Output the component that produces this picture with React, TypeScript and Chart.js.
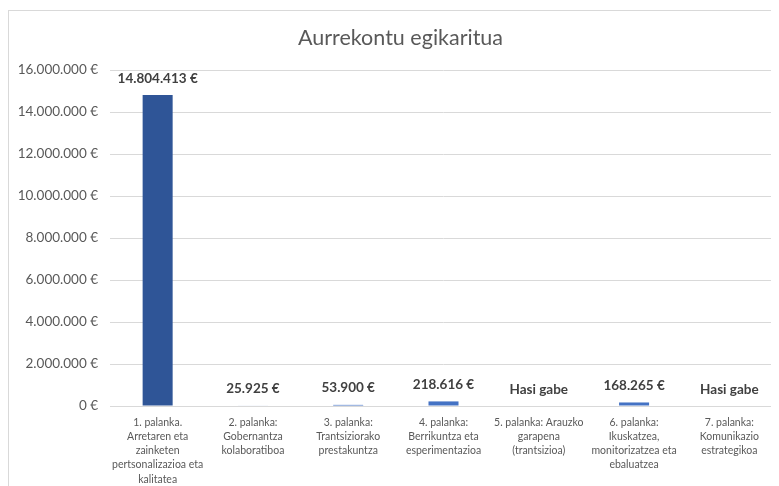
import React, { useEffect, useRef } from "react";
import { Chart, registerables } from "chart.js";

Chart.register(...registerables);

const TITLE = "Aurrekontu egikaritua";
const CATEGORIES: string[][] = [
  ["1. palanka.", "Arretaren eta", "zainketen", "pertsonalizazioa eta", "kalitatea"],
  ["2. palanka:", "Gobernantza", "kolaboratiboa"],
  ["3. palanka:", "Trantsiziorako", "prestakuntza"],
  ["4. palanka:", "Berrikuntza eta", "esperimentazioa"],
  ["5. palanka: Arauzko", "garapena", "(trantsizioa)"],
  ["6. palanka:", "Ikuskatzea,", "monitorizatzea eta", "ebaluatzea"],
  ["7. palanka:", "Komunikazio", "estrategikoa"],
];
const VALUES: (number | null)[] = [14804413, 25925, 53900, 218616, null, 168265, null];
const NOT_STARTED = "Hasi gabe";
const BAR_COLORS = ["#2F5597", "#4472C4", "#4472C4", "#4472C4", "#4472C4", "#4472C4", "#4472C4"];
const Y_MIN = 0;
const Y_MAX = 16000000;
const Y_STEP = 2000000;

const FONT = "Lato, 'Open Sans', sans-serif";

function fmt(n: number): string {
  const s = Math.round(n).toString().replace(/\B(?=(\d{3})+(?!\d))/g, ".");
  return s + " €";
}

const titlePlugin = {
  id: "customTitle",
  afterDraw(chart: any) {
    const ctx = chart.ctx;
    ctx.save();
    ctx.font = `21.5px ${FONT}`;
    ctx.fillStyle = "#595959";
    ctx.textAlign = "center";
    ctx.textBaseline = "middle";
    ctx.fillText(TITLE, chart.width / 2 + 6, 27);
    ctx.restore();
  },
};

const labelPlugin = {
  id: "valueLabels",
  afterDatasetsDraw(chart: any) {
    const ctx = chart.ctx;
    const meta = chart.getDatasetMeta(0);
    const yZero = chart.scales.y.getPixelForValue(0);
    ctx.save();
    ctx.font = `bold 13.5px ${FONT}`;
    ctx.fillStyle = "#404040";
    ctx.textAlign = "center";
    ctx.textBaseline = "bottom";
    meta.data.forEach((el: any, i: number) => {
      const v = VALUES[i];
      const text = v == null ? NOT_STARTED : fmt(v);
      const y = v == null ? yZero : el.y;
      ctx.fillText(text, el.x, y - 10);
    });
    ctx.restore();
  },
};

export default function App() {
  const ref = useRef<HTMLCanvasElement>(null);
  useEffect(() => {
    if (!ref.current) return;
    const chart = new Chart(ref.current, {
      type: "bar",
      data: {
        labels: CATEGORIES,
        datasets: [
          {
            data: VALUES as any,
            backgroundColor: BAR_COLORS,
            barPercentage: 0.315,
            categoryPercentage: 1,
          },
        ],
      },
      options: {
        responsive: false,
        animation: false,
        layout: { padding: { left: 0, right: 3, top: 59, bottom: 0 } },
        plugins: {
          legend: { display: false },
          tooltip: { enabled: false },
          title: { display: false },
        },
        scales: {
          x: {
            grid: { display: false },
            border: { color: "#d9d9d9" },
            ticks: {
              autoSkip: false,
              maxRotation: 0,
              minRotation: 0,
              color: "#595959",
              padding: 1,
              font: { family: FONT, size: 10.5, lineHeight: 1.36 },
            },
            afterFit(scale: any) {
              scale.height = 80;
            },
          },
          y: {
            min: Y_MIN,
            max: Y_MAX,
            border: { display: false },
            grid: { color: "#d9d9d9", drawTicks: false },
            ticks: {
              stepSize: Y_STEP,
              color: "#595959",
              padding: 12,
              font: { family: FONT, size: 13.5 },
              callback: (v: any) => fmt(Number(v)),
            },
            afterFit(scale: any) {
              scale.width = 101;
            },
          },
        },
      },
      plugins: [labelPlugin, titlePlugin],
    });
    return () => chart.destroy();
  }, []);
  return (
    <div
      style={{
        marginTop: 2,
        borderLeft: "1px solid #d9d9d9",
        borderTop: "1px solid #d9d9d9",
        width: 771,
        height: 475,
        overflow: "hidden",
      }}
    >
      <canvas ref={ref} width={771} height={475} style={{ display: "block" }} />
    </div>
  );
}
